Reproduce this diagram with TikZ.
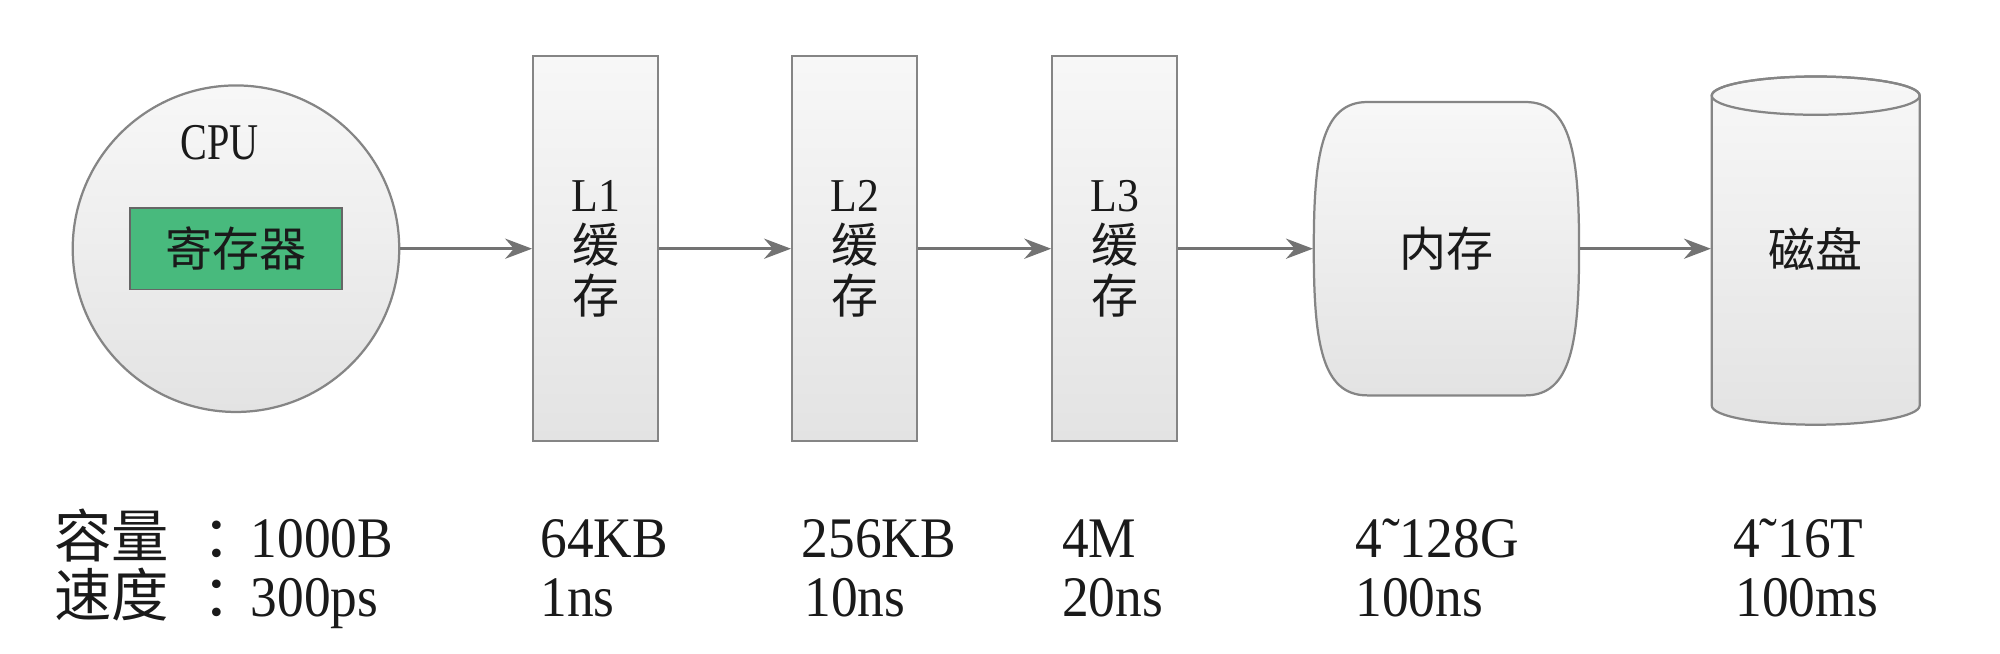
\documentclass[tikz,border=0pt]{standalone}
\usepackage{fontspec}
\setmainfont{Liberation Serif}[FakeStretch=0.93]
\newfontfamily\narrowserif{Liberation Serif}[FakeStretch=0.78]
\newfontfamily\cjk{Noto Sans CJK SC}
\usetikzlibrary{arrows.meta}

\definecolor{regGreen}{HTML}{48BA7D}
\definecolor{edgeGray}{HTML}{858585}
\definecolor{txtDark}{HTML}{1A1A1A}

\tikzset{
  unit/.style={draw=edgeGray, line width=0.5pt, top color=white!97!black, bottom color=white!89!black},
  cache/.style={unit, minimum width=0.98cm, minimum height=3.02cm, align=center, text=txtDark,
    font=\fontsize{10.5}{11.4}\selectfont},
  link/.style={draw=black!55, line width=0.6pt, -{Stealth[length=6pt,width=4.5pt]}},
  rowtext/.style={anchor=base west, inner sep=0pt, text=txtDark, font=\fontsize{12.8}{15}\selectfont},
}

\begin{document}
\begin{tikzpicture}
		\useasboundingbox (0,0) rectangle (15.68,5.12);
		%%%%% START %%%%%
		
		\node[unit, circle, minimum size=2.56cm] (cpu) at (1.85, 3.17) {};
		\node[text=txtDark, font=\narrowserif\fontsize{11.5}{13}\selectfont] (cpulabel) at (1.72, 4.00) {CPU};
		\node[draw=black!60, fill=regGreen, minimum width=1.66cm, minimum height=0.64cm, text=txtDark,
		  font={\cjk\fontsize{10.5}{12}\selectfont}] (reg) at (1.85, 3.17) {寄存器};
		
		\node[cache] (l1) at (4.67, 3.17) {L1\\{\cjk 缓}\\{\cjk 存}};
		\node[cache] (l2) at (6.70, 3.17) {L2\\{\cjk 缓}\\{\cjk 存}};
		\node[cache] (l3) at (8.74, 3.17) {L3\\{\cjk 缓}\\{\cjk 存}};
		
		\path[unit] (10.72, 4.32) -- (11.96, 4.32)
		  .. controls (12.32, 4.32) and (12.38, 3.90) .. (12.38, 3.17)
		  .. controls (12.38, 2.44) and (12.32, 2.02) .. (11.96, 2.02) -- (10.72, 2.02)
		  .. controls (10.36, 2.02) and (10.30, 2.44) .. (10.30, 3.17)
		  .. controls (10.30, 3.90) and (10.36, 4.32) .. (10.72, 4.32) -- cycle;
		\node[minimum width=2.08cm, minimum height=2.30cm, text=txtDark,
		  font={\cjk\fontsize{10.5}{12}\selectfont}] (mem) at (11.34, 3.17) {内存};
		
		\path[unit] (13.42, 4.37) -- (13.42, 1.94)
		  arc[start angle=180, end angle=360, x radius=0.815, y radius=0.15]
		  -- (15.05, 4.37)
		  arc[start angle=0, end angle=180, x radius=0.815, y radius=0.15] -- cycle;
		\draw[edgeGray, line width=0.5pt] (14.235, 4.37) ellipse [x radius=0.815, y radius=0.15];
		\node[minimum width=1.63cm, minimum height=2.40cm, text=txtDark,
		  font={\cjk\fontsize{10.5}{12}\selectfont}] (disk) at (14.235, 3.17) {磁盘};
		
		\draw[link] (cpu.east) -- (l1.west);
		\draw[link] (l1.east) -- (l2.west);
		\draw[link] (l2.east) -- (l3.west);
		\draw[link] (l3.east) -- (mem.west);
		\draw[link] (mem.east) -- (disk.west);
		
		\node[rowtext] (caplabel) at (0.42, 0.75) {\cjk 容量\hspace{0.26cm}：};
		\node[rowtext] (cap0) at (1.96, 0.75) {1000B};
		\node[rowtext] (cap1) at (4.23, 0.75) {64KB};
		\node[rowtext] (cap2) at (6.28, 0.75) {256KB};
		\node[rowtext] (cap3) at (8.32, 0.75) {4M};
		\node[rowtext] (cap4) at (10.62, 0.75) {4˜128G};
		\node[rowtext] (cap5) at (13.58, 0.75) {4˜16T};
		
		\node[rowtext] (spdlabel) at (0.42, 0.29) {\cjk 速度\hspace{0.26cm}：};
		\node[rowtext] (spd0) at (1.96, 0.29) {300ps};
		\node[rowtext] (spd1) at (4.23, 0.29) {1ns};
		\node[rowtext] (spd2) at (6.30, 0.29) {10ns};
		\node[rowtext] (spd3) at (8.32, 0.29) {20ns};
		\node[rowtext] (spd4) at (10.62, 0.29) {100ns};
		\node[rowtext] (spd5) at (13.60, 0.29) {100ms};
		
		%%%%% END %%%%%
\end{tikzpicture}
\end{document}
